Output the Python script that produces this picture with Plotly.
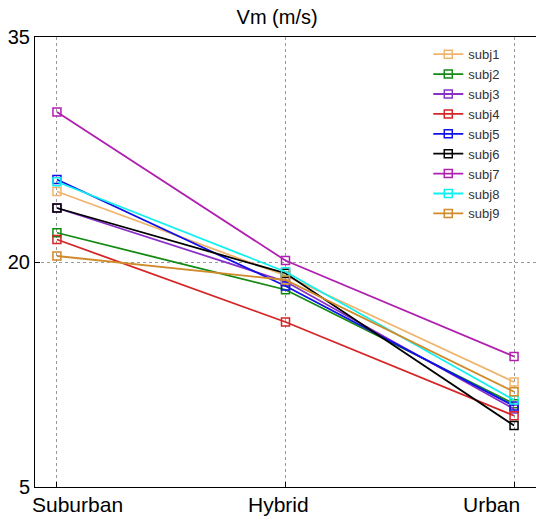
import plotly.graph_objects as go

categories = ["Suburban", "Hybrid", "Urban"]
x_pos = [1, 2, 3]
y_ticks = [5, 20, 35]

subjects = ["subj1", "subj2", "subj3", "subj4", "subj5", "subj6", "subj7", "subj8", "subj9"]
subj1 = [24.7, 19.1, 12.0]
subj2 = [21.95, 18.15, 10.55]
subj3 = [23.6, 18.7, 10.2]
subj4 = [21.5, 16.0, 9.75]
subj5 = [25.5, 18.4, 10.4]
subj6 = [23.6, 19.25, 9.1]
subj7 = [30.0, 20.1, 13.7]
subj8 = [25.35, 19.35, 10.8]
subj9 = [20.4, 18.8, 11.35]
series = [subj1, subj2, subj3, subj4, subj5, subj6, subj7, subj8, subj9]
colors = ["#f0b46c", "#138a13", "#8a30c8", "#d42626", "#1010e8",
          "#000000", "#b020b0", "#10f0f0", "#d08a2a"]
label_shifts = [21, -7, -23]

fig = go.Figure()
for name, vals, col in zip(subjects, series, colors):
    fig.add_trace(go.Scatter(
        x=x_pos, y=vals, name=name, mode="lines+markers",
        line=dict(color=col, width=1.8),
        marker=dict(symbol="square-open", size=8, color=col, line=dict(width=1.5)),
    ))

for xv, lab, sh in zip(x_pos, categories, label_shifts):
    fig.add_annotation(x=xv, y=0, xref="x", yref="paper", text=lab,
                       showarrow=False, xanchor="center", yanchor="top",
                       xshift=sh, yshift=-4, font=dict(size=21, color="black"))

fig.update_layout(
    width=536, height=520,
    margin=dict(l=35, r=0, t=37, b=33),
    plot_bgcolor="white", paper_bgcolor="white",
    font=dict(family="Liberation Sans, Arial, sans-serif", color="black"),
    title=dict(text="Vm (m/s)", x=0.517, xanchor="center", y=0.967, yanchor="middle",
               font=dict(size=20, color="black")),
    showlegend=True,
    legend=dict(x=0.785, y=0.995, xanchor="left", yanchor="top",
                bgcolor="rgba(255,255,255,0)", font=dict(size=13, color="#333"),
                itemwidth=30, tracegroupgap=0),
)
fig.update_xaxes(
    range=[0.904, 3.096], tickvals=x_pos, ticktext=["", "", ""],
    showgrid=True, gridcolor="#999", griddash="dot", gridwidth=1,
    showline=True, linecolor="black", linewidth=1, mirror=True,
    ticks="inside", ticklen=5, tickcolor="black",
    tickfont=dict(size=19), zeroline=False,
)
fig.update_yaxes(
    range=[5, 35], tickvals=y_ticks, ticktext=[str(v) for v in y_ticks],
    showgrid=True, gridcolor="#999", griddash="dot", gridwidth=1,
    showline=True, linecolor="black", linewidth=1, mirror=True,
    ticks="inside", ticklen=5, tickcolor="black",
    tickfont=dict(size=20), zeroline=False,
)

fig.write_html("out.html")
